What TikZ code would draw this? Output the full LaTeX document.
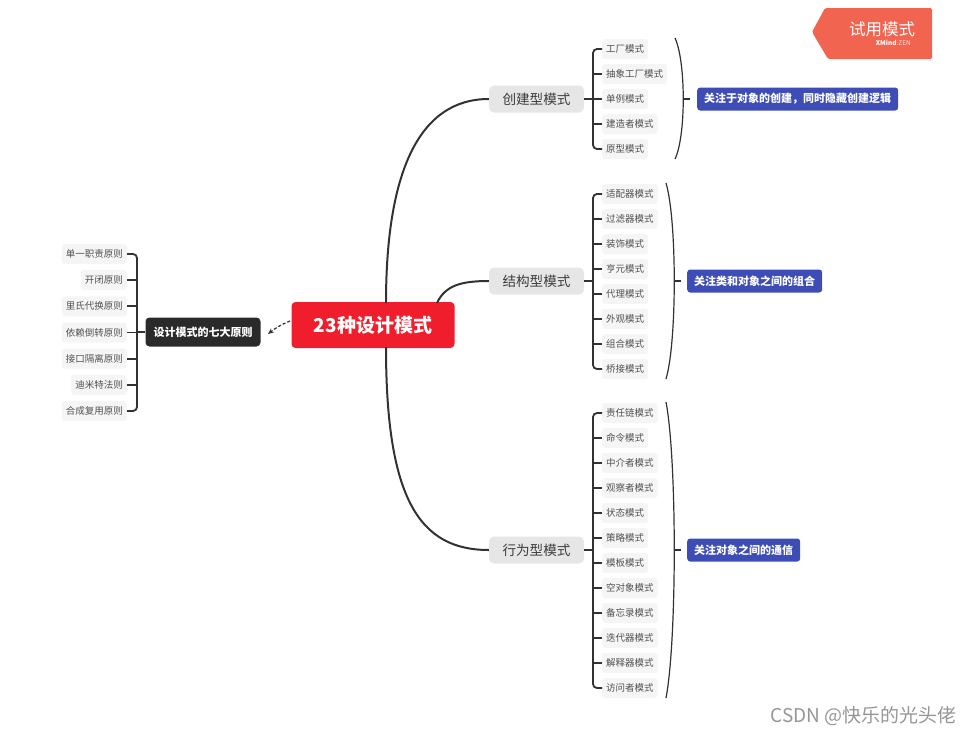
\documentclass[tikz,border=0pt]{standalone}
\usepackage{fontspec}
\setmainfont{Noto Sans CJK SC}
\usetikzlibrary{arrows.meta}
\definecolor{leafbg}{RGB}{245,245,245}
\definecolor{leaftxt}{RGB}{80,80,80}
\definecolor{brbg}{RGB}{230,230,230}
\definecolor{brtxt}{RGB}{60,60,60}
\definecolor{centralred}{RGB}{240,30,45}
\definecolor{prinbg}{RGB}{42,42,42}
\definecolor{sumbg}{RGB}{61,77,181}
\definecolor{linec}{RGB}{50,50,50}
\definecolor{badgec}{RGB}{241,100,80}
\definecolor{wmark}{RGB}{150,150,150}
\tikzset{
  leafR/.style={fill=leafbg, rounded corners=3pt, text=leaftxt, font=\fontsize{9.5}{10}\selectfont, inner xsep=4pt, inner ysep=0pt, minimum height=20pt, anchor=west},
  leafL/.style={leafR, anchor=east},
  branch/.style={fill=brbg, rounded corners=5pt, text=brtxt, font=\fontsize{13.6}{14}\selectfont, minimum width=95pt, minimum height=27pt, inner sep=0pt},
  central/.style={fill=centralred, rounded corners=4pt, text=white, font=\fontsize{19}{20}\selectfont\bfseries, minimum width=163pt, minimum height=46pt, inner sep=0pt},
  prin/.style={fill=prinbg, rounded corners=4pt, text=white, font=\fontsize{11}{12}\selectfont\bfseries, minimum width=115pt, minimum height=29pt, inner sep=0pt},
  summary/.style={fill=sumbg, rounded corners=3pt, text=white, font=\fontsize{11}{12}\selectfont\bfseries, minimum height=23pt, inner xsep=7pt, inner ysep=0pt, anchor=west},
  conn/.style={draw=linec, line width=2pt},
  leafconn/.style={draw=linec, line width=1.8pt, rounded corners=4pt},
  brace/.style={draw=linec, line width=1.2pt},
}
\begin{document}
\begin{tikzpicture}[x=1pt,y=-1pt]
\useasboundingbox (0,0) rectangle (973,734);

% central and principles
\node[central] (c) at (373,325) {23种设计模式};
\node[prin] (p) at (203,332) {设计模式的七大原则};
\coordinate (ptip) at (268,334);
\draw[linec, line width=1.2pt, dashed, dash pattern=on 3pt off 2pt, -{Stealth[length=6pt,width=5pt]}] (290,321) to[bend right=8] (ptip);

% branches
\node[branch] (b1) at (536.5,99) {创建型模式};
\node[branch] (b2) at (536.5,281) {结构型模式};
\node[branch] (b3) at (536.5,550) {行为型模式};

\draw[conn] (386,303) .. controls (386,170) and (420,99) .. (b1.west);
\draw[conn] (437,303) .. controls (445,286) and (460,281) .. (b2.west);
\draw[conn] (386,347) .. controls (386,500) and (420,550) .. (b3.west);

% leaves
\foreach \t [count=\i] in {工厂模式,抽象工厂模式,单例模式,建造者模式,原型模式}
  \node[leafR] (ca\i) at (602,24+25*\i) {\t};
\foreach \t [count=\i] in {适配器模式,过滤器模式,装饰模式,亨元模式,代理模式,外观模式,组合模式,桥接模式}
  \node[leafR] (cb\i) at (602,169+25*\i) {\t};
\foreach \t [count=\i] in {责任链模式,命令模式,中介者模式,观察者模式,状态模式,策略模式,模板模式,空对象模式,备忘录模式,迭代器模式,解释器模式,访问者模式}
  \node[leafR] (cc\i) at (602,388+25*\i) {\t};
\foreach \t [count=\i] in {单一职责原则,开闭原则,里氏代换原则,依赖倒转原则,接口隔离原则,迪米特法则,合成复用原则}
  \node[leafL] (pl\i) at (127,254+26.17*\i-26.17) {\t};

% brackets to leaves
\draw[leafconn] (ca1.west) -- (593,49) -- (593,149) -- (ca5.west);
\foreach \i in {2,3,4} \draw[leafconn] (593,24+25*\i) -- (ca\i.west);
\draw[leafconn] (b1.east) -- (593,99);

\draw[leafconn] (cb1.west) -- (593,194) -- (593,369) -- (cb8.west);
\foreach \i in {2,...,7} \draw[leafconn] (593,169+25*\i) -- (cb\i.west);
\draw[leafconn] (b2.east) -- (593,281);

\draw[leafconn] (cc1.west) -- (593,413) -- (593,688) -- (cc12.west);
\foreach \i in {2,...,11} \draw[leafconn] (593,388+25*\i) -- (cc\i.west);
\draw[leafconn] (b3.east) -- (593,550);

\draw[leafconn] (pl1.east) -- (137,254) -- (137,411) -- (pl7.east);
\foreach \i in {2,...,6} \draw[leafconn] (137,254+26.17*\i-26.17) -- (pl\i.east);
\draw[leafconn] (p.west) -- (137,332);

% summaries
\node[summary] (s1) at (697,99) {关注于对象的创建，同时隐藏创建逻辑};
\node[summary] (s2) at (687,281) {关注类和对象之间的组合};
\node[summary] (s3) at (687,550) {关注对象之间的通信};

\draw[brace] (675,38) .. controls (686,62) and (686,136) .. (675,159);
\coordinate (t1) at (690,99);
\draw[brace] (683.2,99) -- (t1);
\draw[brace] (666,183) .. controls (677,220) and (677,342) .. (666,379);
\coordinate (t2) at (681,281);
\draw[brace] (674.2,281) -- (t2);
\draw[brace] (666,402) .. controls (677,460) and (677,640) .. (666,698);
\coordinate (t3) at (681,550);
\draw[brace] (674.2,550) -- (t3);

% badge
\fill[badgec, rounded corners=1.5pt] (812,32) -- (825,8) -- (932,8) -- (932,59) -- (828,59) -- cycle;
\node[text=white, font=\fontsize{16.5}{17}\selectfont] (bt) at (882,29) {试用模式};
\node[anchor=east, inner sep=0pt, font=\fontsize{6.5}{7}\selectfont] (bx) at (911,43) {\textcolor{white}{\bfseries XMind}\textcolor{white!80!badgec}{:ZEN}};

% watermark
\node[anchor=east, inner sep=0pt, text=wmark, font=\fontsize{19}{20}\selectfont] (wm) at (957,716) {CSDN @快乐的光头佬};
\end{tikzpicture}
\end{document}
